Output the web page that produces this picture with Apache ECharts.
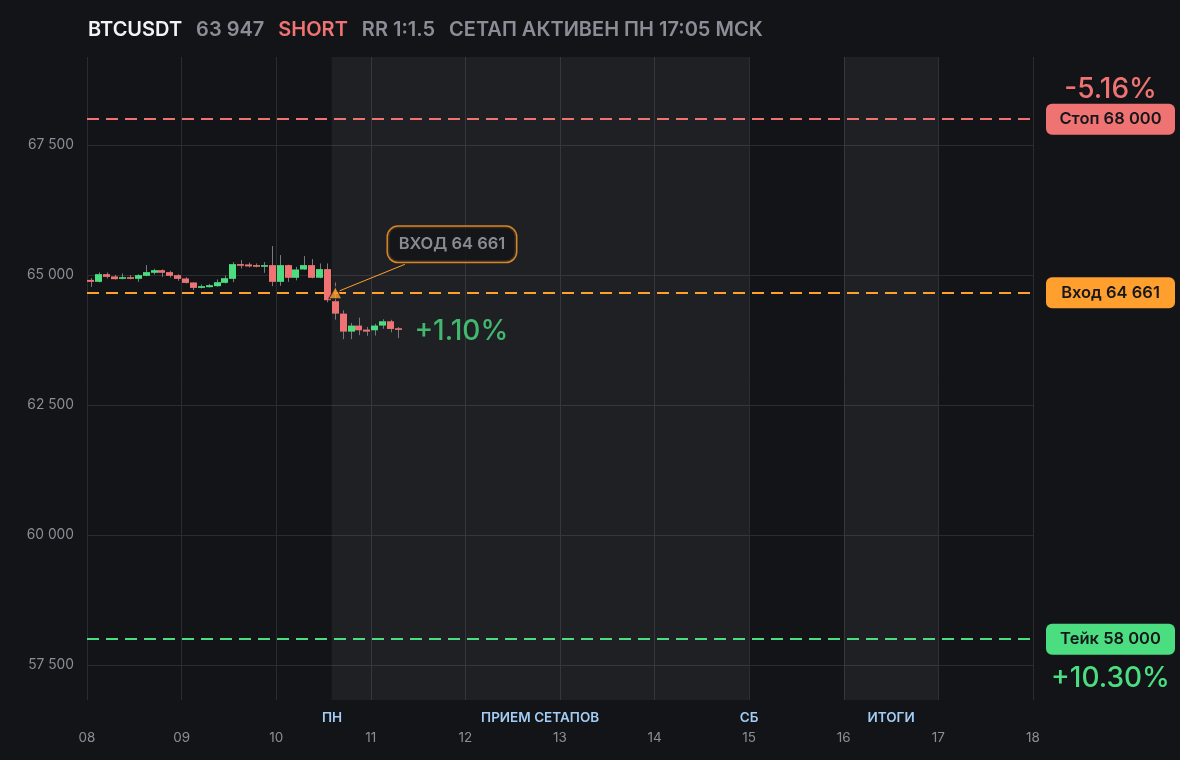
<!DOCTYPE html>
<html><head><meta charset="utf-8">
<script src="https://cdn.jsdelivr.net/npm/echarts@6/dist/echarts.min.js"></script>
<style>html,body{margin:0;padding:0;background:#131418;}#c{width:1180px;height:760px;}</style>
</head><body><div id="c"></div>
<script>
// ---- header text ----
const SYMBOL = 'BTCUSDT';
const LAST_PRICE_TEXT = '63 947';
const SIDE = 'SHORT';
const RR_TEXT = 'RR 1:1.5';
const STATUS_TEXT = 'СЕТАП АКТИВЕН ПН 17:05 МСК';

// ---- levels ----
const ENTRY = 64661;
const STOP = 68000;
const TAKE = 58000;

// ---- axes ----
const Y_MIN = 56830, Y_MAX = 69195;
const yTickValues = [57500, 60000, 62500, 65000, 67500];
const X_MIN_DAY = 8, X_MAX_DAY = 18;

// ---- candles (2h, starting 08 00:00 UTC) ----
const CANDLE_START_DAY = 8;
const CANDLE_HOURS = 2;
const candleOpen  = [64909,64871,65019,64975,64929,64961,64929,64987,65045,65096,65058,65000,64936,64859,64755,64769,64788,64852,64929,65212,65206,65193,65161,65193,64871,65193,64949,65109,65193,64949,65116,64498,64260,63914,64030,63953,63940,64030,64113,63979];
const candleHigh  = [64942,65052,65052,65006,65032,65000,65019,65193,65122,65110,65084,65019,64961,64865,64820,64830,64917,64994,65251,65289,65240,65225,65251,65559,65386,65200,65160,65366,65309,65225,65225,64859,64325,64081,64183,64004,64065,64153,64141,64004];
const candleLow   = [64774,64860,64936,64915,64920,64920,64871,64980,65013,64968,64955,64891,64840,64711,64745,64760,64775,64840,64865,65129,65148,65150,65045,64788,64794,64871,64900,65100,64940,64940,64479,64144,63769,63769,63846,63833,63839,63968,63901,63788];
const candleClose = [64871,65019,64967,64923,64961,64929,65000,65058,65096,65045,64987,64929,64851,64755,64788,64807,64865,64942,65212,65180,65168,65161,65193,64871,65193,64949,65109,65193,64949,65116,64518,64260,63914,64030,63940,63914,64030,64113,63965,63947];

// ---- session phases ----
const SETUP_START_DAY = 10 + (14 + 5/60) / 24;   // ПН 17:05 МСК
const shadedRanges = [[SETUP_START_DAY, 15], [16, 17]];
const phaseLabels = ['ПН', 'ПРИЕМ СЕТАПОВ', 'СБ', 'ИТОГИ'];
const phaseDays = [SETUP_START_DAY, (SETUP_START_DAY + 15) / 2, 15, 16.5];

// ---- entry marker / annotation ----
const ENTRY_MARK_DAY = 10 + 15/24;
const ANNOT_TEXT = 'ВХОД 64 661';
const ANNOT_POS = [11.858, 65594];
const ANNOT_LINE = [[10.672, 64700], [11.36, 65208]];

// colours
const BG = '#131418', GREEN = '#4ade80', RED = '#f07373', ORANGE = '#ff9f2e';
const GRID = '#2a2c31', TXT = '#8b8e96', BLUE = '#a3cdf5';

const fmtNum = v => String(v).replace(/\B(?=(\d{3})+(?!\d))/g, ' ');
const pct = lvl => { const p = (ENTRY - lvl) / ENTRY * 100; return (p >= 0 ? '+' : '-') + Math.abs(p).toFixed(2) + '%'; };

const candleData = candleOpen.map((o, i) => [
  CANDLE_START_DAY + (i * CANDLE_HOURS + CANDLE_HOURS / 2) / 24,
  o, candleClose[i], candleLow[i], candleHigh[i]
]);
const lastIdx = candleData.length - 1;

function boxLabel(text, bg) {
  return {
    show: true, position: 'end', distance: 13,
    formatter: '{b|' + text + '}',
    rich: { b: { backgroundColor: bg, borderRadius: 6, width: 129, height: 31, lineHeight: 31,
      align: 'center', color: '#16171b', fontSize: 16.5, fontWeight: 600, fontFamily: 'Inter' } }
  };
}
function pctLabel(text, color, dy) {
  return {
    show: true, position: 'end', distance: 13, offset: [0, dy],
    formatter: '{p|' + text + '}',
    rich: { p: { width: 129, align: 'center', color: color, fontSize: 28, fontWeight: 500, fontFamily: 'Inter' } }
  };
}
const HIDDEN_LINE = { color: 'rgba(0,0,0,0)', width: 0 };

const chart = echarts.init(document.getElementById('c'));
chart.setOption({
  backgroundColor: BG,
  animation: false,
  textStyle: { fontFamily: 'Inter' },
  title: {
    left: 83, top: 15,
    text: '{a|' + SYMBOL + '}{g|' + LAST_PRICE_TEXT + '}{r|' + SIDE + '}{g|' + RR_TEXT + '}{g|' + STATUS_TEXT + '}',
    textStyle: {
      rich: {
        a: { color: '#f2f3f5', fontSize: 20, fontWeight: 600, fontFamily: 'Inter' },
        g: { color: TXT, fontSize: 20, fontWeight: 600, fontFamily: 'Inter', padding: [0, 0, 0, 14] },
        r: { color: RED, fontSize: 20, fontWeight: 600, fontFamily: 'Inter', padding: [0, 0, 0, 14] }
      }
    }
  },
  grid: { left: 87, right: 147, top: 57, bottom: 60 },
  xAxis: {
    type: 'value', min: X_MIN_DAY, max: X_MAX_DAY, interval: 1,
    axisLine: { show: false }, axisTick: { show: false },
    axisLabel: { color: TXT, fontSize: 13.5, margin: 31, formatter: v => String(v).padStart(2, '0') },
    splitLine: { show: true, lineStyle: { color: GRID, width: 1 } }
  },
  yAxis: {
    type: 'value', min: Y_MIN, max: Y_MAX,
    axisLine: { show: false },
    axisTick: { show: false, customValues: yTickValues },
    axisLabel: { color: TXT, fontSize: 13.8, margin: 13, customValues: yTickValues, formatter: v => fmtNum(v) },
    splitLine: { show: true, lineStyle: { color: GRID, width: 1 } }
  },
  series: [
    {
      name: 'phases', type: 'line', data: [], silent: true,
      markArea: {
        silent: true,
        itemStyle: { color: 'rgba(255,255,255,0.055)' },
        data: shadedRanges.map(r => [{ xAxis: r[0] }, { xAxis: r[1] }])
      },
      markLine: {
        silent: true, symbol: 'none',
        lineStyle: HIDDEN_LINE,
        label: { show: true, position: 'start', distance: 11, color: BLUE, fontSize: 13.5, fontWeight: 600 },
        data: phaseDays.map((d, i) => ({ xAxis: d, label: { formatter: phaseLabels[i] } }))
      }
    },
    {
      name: 'levels', type: 'line', data: [], silent: true,
      markLine: {
        silent: true, symbol: 'none',
        lineStyle: { type: [12, 7], width: 1.8 },
        data: [
          { yAxis: STOP, lineStyle: { color: RED }, label: boxLabel('Стоп ' + fmtNum(STOP), RED) },
          { yAxis: STOP, lineStyle: HIDDEN_LINE, label: pctLabel(pct(STOP), RED, -30) },
          { yAxis: ENTRY, lineStyle: { color: ORANGE }, label: boxLabel('Вход ' + fmtNum(ENTRY), ORANGE) },
          { yAxis: TAKE, lineStyle: { color: GREEN }, label: boxLabel('Тейк ' + fmtNum(TAKE), GREEN) },
          { yAxis: TAKE, lineStyle: HIDDEN_LINE, label: pctLabel(pct(TAKE), GREEN, 39) }
        ]
      }
    },
    {
      name: 'candles', type: 'custom', z: 5,
      encode: { x: 0, y: [1, 2, 3, 4] },
      data: candleData,
      renderItem: function (params, api) {
        const x = api.value(0), o = api.value(1), c = api.value(2), l = api.value(3), h = api.value(4);
        const pO = api.coord([x, o]), pC = api.coord([x, c]), pL = api.coord([x, l]), pH = api.coord([x, h]);
        const w = Math.round(api.size([CANDLE_HOURS / 24, 0])[0] * 0.88);
        const top = Math.min(pO[1], pC[1]);
        let hh = Math.abs(pO[1] - pC[1]); if (hh < 1.5) hh = 1.5;
        const cx = Math.round(pO[0]) + 0.5;
        const color = c >= o ? GREEN : RED;
        return {
          type: 'group', children: [
            { type: 'line', shape: { x1: cx, y1: pH[1], x2: cx, y2: pL[1] }, style: { stroke: '#777a83', lineWidth: 1 } },
            { type: 'rect', shape: { x: Math.round(pO[0] - w / 2), y: top, width: w, height: hh }, style: { fill: color } }
          ]
        };
      }
    },
    {
      name: 'current', type: 'scatter', z: 6, symbolSize: 0,
      data: [[candleData[lastIdx][0], candleClose[lastIdx]]],
      label: { show: true, position: 'right', distance: 16, offset: [0, 2], formatter: pct(candleClose[lastIdx]), color: GREEN, fontSize: 28, fontWeight: 500 }
    },
    {
      name: 'annot', type: 'scatter', z: 7, symbolSize: 0,
      data: [ANNOT_POS],
      label: {
        show: true, position: 'inside', formatter: '{b|' + ANNOT_TEXT + '}',
        rich: { b: { color: '#a6a9b0', fontSize: 16.5, fontWeight: 600, backgroundColor: BG,
          borderColor: ORANGE, borderWidth: 1.5, borderRadius: 10, width: 128, height: 35, lineHeight: 35, align: 'center' } }
      },
      markLine: {
        silent: true, symbol: 'none',
        lineStyle: { color: ORANGE, width: 1, type: 'solid' },
        label: { show: false },
        data: [[{ coord: ANNOT_LINE[0] }, { coord: ANNOT_LINE[1] }]]
      }
    },
    {
      name: 'entry', type: 'scatter', z: 8, symbol: 'triangle', symbolSize: [13, 12],
      itemStyle: { color: ORANGE, borderColor: BG, borderWidth: 1 },
      data: [[ENTRY_MARK_DAY, ENTRY]]
    }
  ]
});
</script></body></html>
